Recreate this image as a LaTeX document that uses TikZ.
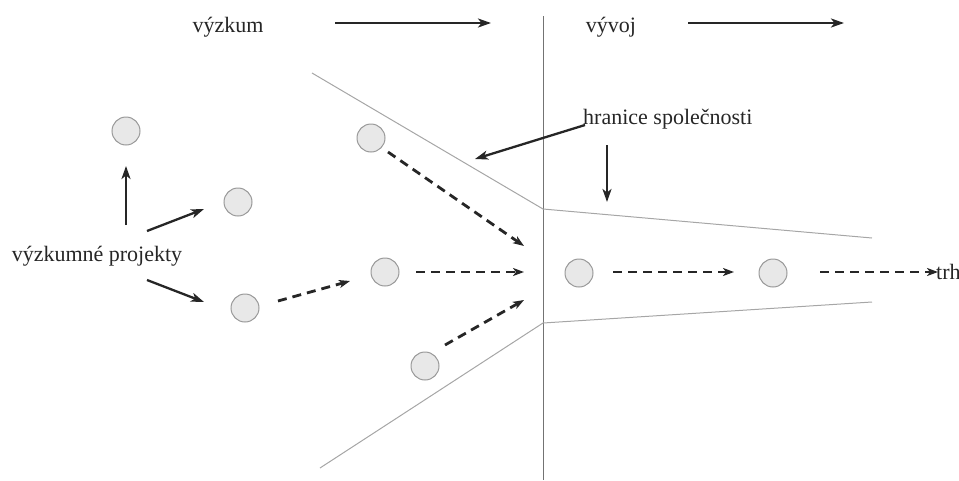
\documentclass[tikz,border=0pt]{standalone}
\usepackage{fontspec}
\setmainfont{Liberation Serif}
\usetikzlibrary{arrows.meta}
\begin{document}
\begin{tikzpicture}[x=1pt,y=-1pt,
  proj/.style={circle,minimum size=28pt,inner sep=0pt,fill=black!9,draw=black!40,line width=1pt},
  lbl/.style={font=\fontsize{22}{26}\selectfont,inner sep=0pt,text=black!85},
  solidarrow/.style={-{Stealth[length=13pt,width=9pt,inset=3.5pt]},line width=2.3pt,black!85},
  dasharrow/.style={-{Stealth[length=11pt,width=8pt,inset=3pt]},line width=2.8pt,dash pattern=on 9pt off 6pt,black!85},
  bound/.style={black!35,line width=1pt},
  divider/.style={black!55,line width=0.9pt},
]
\useasboundingbox (0,0) rectangle (959,480);
% divider and boundaries
\coordinate (vt) at (543,16);
\coordinate (vb) at (543,480);
\draw[divider] (vt) -- (vb);
\coordinate (ul) at (312,73);
\coordinate (um) at (543,209);
\coordinate (ur) at (872,238);
\coordinate (ll) at (320,468);
\coordinate (lm) at (543,323);
\coordinate (lr) at (872,302);
\draw[bound] (ul) -- (um) -- (ur);
\draw[bound] (ll) -- (lm) -- (lr);
% labels
\node[lbl,anchor=base] (vyzkum) at (228,32) {výzkum};
\node[lbl,anchor=base] (vyvoj) at (611,32) {vývoj};
\node[lbl,anchor=base] (projekty) at (97,261) {výzkumné projekty};
\node[lbl,anchor=west] (trh) at (936,272) {trh};
\node[lbl,anchor=base west] (hranice) at (583,124) {hranice společnosti};
% top arrows
\coordinate (a1s) at (335,23); \coordinate (a1e) at (491,23);
\coordinate (a2s) at (688,23); \coordinate (a2e) at (844,23);
\draw[solidarrow] (a1s) -- (a1e);
\draw[solidarrow] (a2s) -- (a2e);
% circles
\node[proj] (A) at (126,131) {};
\node[proj] (B) at (238,202) {};
\node[proj] (C) at (245,308) {};
\node[proj] (D) at (371,138) {};
\node[proj] (E) at (385,272) {};
\node[proj] (F) at (425,366) {};
\node[proj] (G) at (579,273) {};
\node[proj] (H) at (773,273) {};
% solid arrows from label
\coordinate (pA) at (126,225); \coordinate (tA) at (126,166);
\coordinate (pB) at (147,231); \coordinate (tB) at (204,209);
\coordinate (pC) at (147,280); \coordinate (tC) at (204,302);
\draw[solidarrow] (pA) -- (tA);
\draw[solidarrow] (pB) -- (tB);
\draw[solidarrow] (pC) -- (tC);
% hranice arrows
\coordinate (h1s) at (585,125); \coordinate (h1e) at (475,159);
\coordinate (h2s) at (607,145); \coordinate (h2e) at (607,202);
\draw[solidarrow] (h1s) -- (h1e);
\draw[solidarrow] (h2s) -- (h2e);
% dashed arrows
\coordinate (dC) at (278,301); \coordinate (eC) at (350,281);
\coordinate (dD) at (388,152); \coordinate (eD) at (524,246);
\coordinate (dE) at (416,272); \coordinate (eE) at (524,272);
\coordinate (dF) at (445,345); \coordinate (eF) at (524,300);
\coordinate (dG) at (613,272); \coordinate (eG) at (734,272);
\coordinate (dH) at (820,272); \coordinate (eH) at (938,272);
\draw[dasharrow] (dC) -- (eC);
\draw[dasharrow] (dD) -- (eD);
\draw[dasharrow] (dE) -- (eE);
\draw[dasharrow] (dF) -- (eF);
\draw[dasharrow] (dG) -- (eG);
\draw[dasharrow] (dH) -- (eH);
\end{tikzpicture}
\end{document}
